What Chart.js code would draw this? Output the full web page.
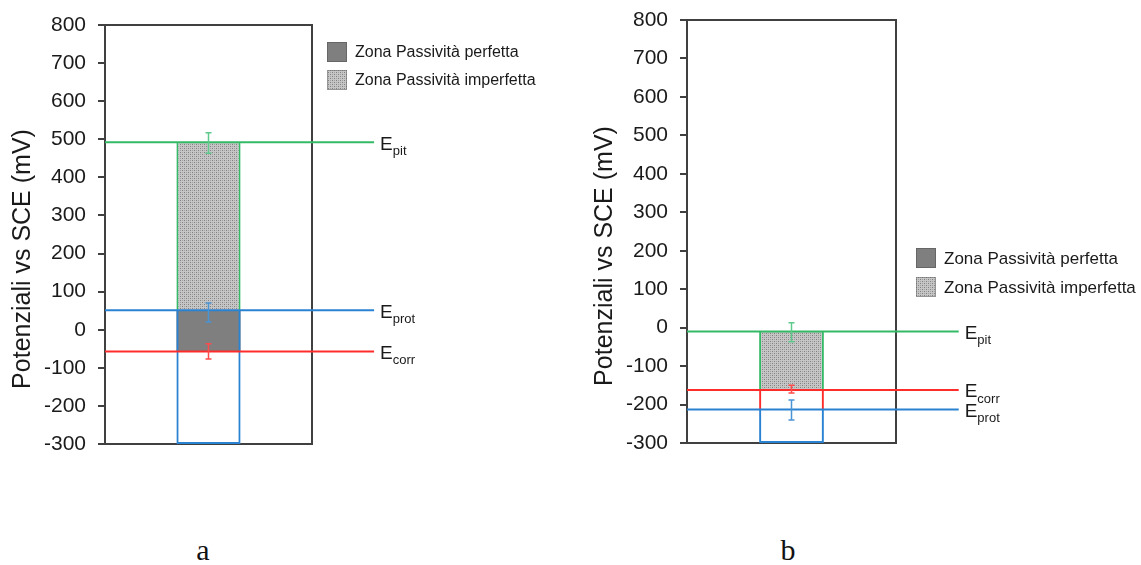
<!DOCTYPE html>
<html>
<head>
<meta charset="utf-8">
<script src="https://cdn.jsdelivr.net/npm/chart.js@4.4.1/dist/chart.umd.min.js"></script>
<style>
  body { margin: 0; background: #fff; width: 1141px; height: 565px; position: relative; overflow: hidden; }
  .box { position: absolute; }
  #boxA { left: 0; top: 0; width: 580px; height: 470px; }
  #boxB { left: 580px; top: -5px; width: 561px; height: 475px; }
  .cap { position: absolute; width: 40px; text-align: center; font-family: "Liberation Serif", serif; font-size: 30px; line-height: 30px; color: #111; }
</style>
</head>
<body>
<div class="box" id="boxA"><canvas id="chartA"></canvas></div>
<div class="box" id="boxB"><canvas id="chartB"></canvas></div>
<div class="cap" style="left:183px; top:535px;">a</div>
<div class="cap" style="left:768px; top:535px;">b</div>
<script>
// Asse y (mV vs SCE)
const yMin = -300;
const yMax = 800;
const yStep = 100;

// Nomi dei potenziali (pedici)
const nomiPot = ["pit", "prot", "corr"];

// Grafico a: Epit, Eprot, Ecorr
const potA = [492, 51, -57];
const errCentroA = [490, 45, -57];
const errA = [27, 25, 20];

// Grafico b: Epit, Eprot, Ecorr
const potB = [-10, -213, -162];
const errCentroB = [-12, -214, -160];
const errB = [25, 26, 10];

const legendaZone = ["Zona Passività perfetta", "Zona Passività imperfetta"];

const VERDE = "#34ba66";
const BLU = "#2a82d2";
const ROSSO = "#ff2c2c";
const coloriLinee = [VERDE, BLU, ROSSO];
const coloriErr = ["#5ec98b", "#4a93d4", "#ff4b4b"];

// Retino grigio puntinato
function creaRetino() {
  const c = document.createElement("canvas");
  c.width = 4; c.height = 4;
  const g = c.getContext("2d");
  g.fillStyle = "#c6c6c6";
  g.fillRect(0, 0, 4, 4);
  g.fillStyle = "#808080";
  g.fillRect(0, 0, 1, 1);
  g.fillRect(2, 2, 1, 1);
  g.fillStyle = "#a2a2a2";
  g.fillRect(2, 0, 1, 1);
  g.fillRect(0, 2, 1, 1);
  return g.createPattern(c, "repeat");
}
const retino = creaRetino();

// Cornice del grafico
const cornice = {
  id: "cornice",
  beforeDatasetsDraw(chart) {
    const a = chart.chartArea;
    const ctx = chart.ctx;
    ctx.save();
    ctx.strokeStyle = "#404040";
    ctx.lineWidth = 2;
    ctx.strokeRect(a.left, a.top, a.right - a.left, a.bottom - a.top);
    ctx.restore();
  }
};

// Barre d'errore + etichette E_xxx + titolo asse + legenda
const extra = {
  id: "extra",
  afterDatasetsDraw(chart, args, o) {
    const ctx = chart.ctx;
    const x = chart.scales.x.getPixelForValue(0);
    const y = chart.scales.y;
    ctx.save();
    // barre d'errore
    o.centri.forEach((c, i) => {
      const y1 = y.getPixelForValue(c - o.err[i]);
      const y2 = y.getPixelForValue(c + o.err[i]);
      ctx.strokeStyle = coloriErr[i];
      ctx.lineWidth = 1.5;
      ctx.beginPath();
      ctx.moveTo(x, y1); ctx.lineTo(x, y2);
      ctx.moveTo(x - 3, y1); ctx.lineTo(x + 3, y1);
      ctx.moveTo(x - 3, y2); ctx.lineTo(x + 3, y2);
      ctx.stroke();
    });
    // etichette delle linee
    ctx.fillStyle = "#1a1a1a";
    ctx.textBaseline = "middle";
    nomiPot.forEach((n, i) => {
      const p = chart.getDatasetMeta(i).data[1];
      ctx.font = "19px 'Liberation Sans'";
      ctx.fillText("E", p.x + 6, p.y + 2);
      const w = ctx.measureText("E").width;
      ctx.font = "13px 'Liberation Sans'";
      ctx.fillText(n, p.x + 6 + w, p.y + 9);
    });
    // titolo asse y
    ctx.save();
    ctx.translate(o.titolo.x, o.titolo.y);
    ctx.rotate(-Math.PI / 2);
    ctx.textAlign = "center";
    ctx.font = "25px 'Liberation Sans'";
    ctx.fillText("Potenziali vs SCE (mV)", 0, 0);
    ctx.restore();
    // legenda
    const L = o.legenda;
    legendaZone.forEach((t, i) => {
      const sy = L.y + i * L.passo;
      ctx.fillStyle = i === 0 ? "#7f7f7f" : retino;
      ctx.fillRect(L.x, sy, 20, 20);
      ctx.strokeStyle = "#666";
      ctx.lineWidth = 1;
      ctx.setLineDash(i === 0 ? [] : [1, 1]);
      ctx.strokeRect(L.x + 0.5, sy + 0.5, 19, 19);
      ctx.setLineDash([]);
      ctx.fillStyle = "#1a1a1a";
      ctx.font = L.font + "px 'Liberation Sans'";
      ctx.fillText(t, L.x + 28, sy + 11);
    });
    ctx.restore();
  }
};

function lineeDataset(pot) {
  return pot.map((v, i) => ({
    type: "line",
    xAxisID: "xl",
    data: [{ x: 0, y: v }, { x: 1.3, y: v }],
    borderColor: coloriLinee[i],
    borderWidth: 2,
    pointRadius: 0,
    clip: false,
    order: 0
  }));
}

// rettangolo di zona: solo i lati (sopra/sotto ci sono le linee)
function zona(range, fondo, bordo, ordine, fondoBordo) {
  return {
    data: [range],
    backgroundColor: fondo,
    borderColor: bordo || "rgba(0,0,0,0)",
    borderWidth: bordo ? { left: 2, right: 2, top: 0, bottom: fondoBordo ? 2 : 0 } : 0,
    borderSkipped: false,
    grouped: false,
    categoryPercentage: 1,
    barPercentage: 0.31,
    order: ordine
  };
}

function opzioni(g, extraOpt) {
  return {
    responsive: true,
    maintainAspectRatio: false,
    animation: false,
    layout: { padding: { left: 0, top: g.top, right: g.right, bottom: g.bottom } },
    plugins: { legend: { display: false }, tooltip: { enabled: false }, extra: extraOpt },
    scales: {
      x: { type: "category", display: false },
      xl: { type: "linear", display: false, min: 0, max: 1, offset: false },
      y: {
        min: yMin, max: yMax,
        ticks: { stepSize: yStep, color: "#1a1a1a", padding: 12, font: { family: "Liberation Sans", size: 21 } },
        grid: { drawOnChartArea: false, drawTicks: true, tickLength: 7, color: "#404040", lineWidth: 2 },
        border: { display: false },
        afterFit(s) { s.width = g.left; }
      }
    }
  };
}

// Grafico a
new Chart(document.getElementById("chartA"), {
  type: "bar",
  data: {
    labels: [""],
    datasets: [
      ...lineeDataset(potA),
      zona([yMin, potA[1]], "rgba(0,0,0,0)", BLU, 1, true),
      zona([potA[2], potA[1]], "#7f7f7f", null, 2),
      zona([potA[1], potA[0]], retino, VERDE, 1)
    ]
  },
  options: opzioni(
    { left: 105, top: 25, right: 268, bottom: 26 },
    { centri: errCentroA, err: errA, titolo: { x: 23, y: 259 }, legenda: { x: 327, y: 42, passo: 28, font: 16 } }
  ),
  plugins: [cornice, extra]
});

// Grafico b
new Chart(document.getElementById("chartB"), {
  type: "bar",
  data: {
    labels: [""],
    datasets: [
      ...lineeDataset(potB),
      zona([yMin, potB[1]], "rgba(0,0,0,0)", BLU, 1, true),
      zona([potB[1], potB[2]], "rgba(0,0,0,0)", ROSSO, 1),
      zona([potB[2], potB[0]], retino, VERDE, 1)
    ]
  },
  options: opzioni(
    { left: 107, top: 25, right: 245, bottom: 27 },
    { centri: errCentroB, err: errB, titolo: { x: 25, y: 261 }, legenda: { x: 336, y: 253, passo: 29, font: 17 } }
  ),
  plugins: [cornice, extra]
});
</script>
</body>
</html>
